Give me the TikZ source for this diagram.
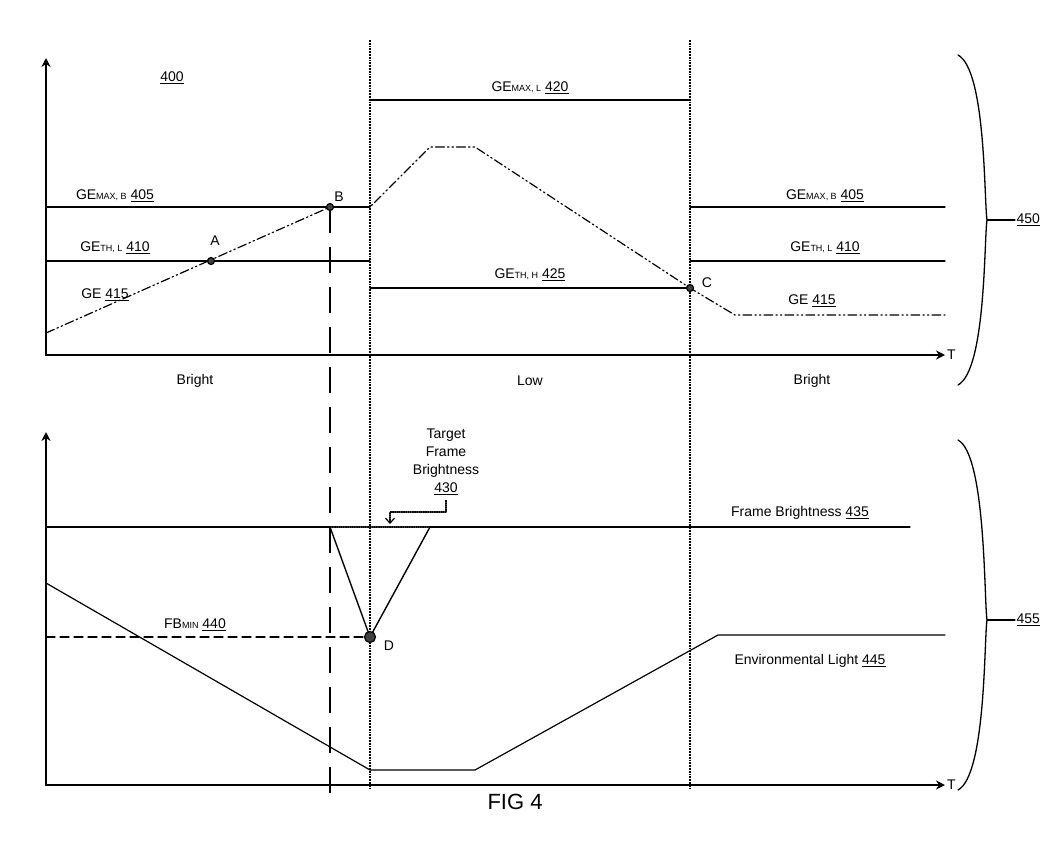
\documentclass[tikz,border=0pt]{standalone}
\usepackage{fontspec}
\setmainfont{Liberation Sans}
\usetikzlibrary{calc,arrows.meta}
\begin{document}
\begin{tikzpicture}[x=1pt, y=-1pt, line join=round, line cap=round, line width=1.2pt,
    >={Stealth[open, length=9pt, width=9pt]},
    lbl/.style={font=\fontsize{14}{16}\selectfont, inner sep=1pt},
    dot/.style={circle, fill=black!75, draw=black, inner sep=0pt, minimum size=7pt},
    dotline/.style={densely dotted, line width=1.8pt, line cap=butt},
    ge/.style={dash pattern=on 9pt off 3pt on 1.5pt off 3pt on 1.5pt off 3pt}]
	\useasboundingbox (0,0) rectangle (1059,863);

	% axes
	\coordinate (O1) at (46,355); \coordinate (O2) at (46,785);
	\draw[->, line width=2.2pt] (O1)--(46,58);
	\draw[->, line width=2.2pt] (O1)--(945,355) node[right, lbl] (T1) {T};
	\draw[->, line width=2.2pt] (O2)--(46,432);
	\draw[->, line width=2.2pt] (O2)--(945,785) node[right, lbl] (T2) {T};

	% markers in time
	\draw[dotline] (370,40)--(370,790);
	\draw[dotline] (690,40)--(690,790);
	\draw[dash pattern=on 26pt off 14pt, line width=1.6pt, line cap=butt] (330,207)--(330,800);

	% upper levels
	\draw (370,100)--(690,100);
	\draw (46,207)--(370,207) (690,207)--(945,207);
	\draw (46,261)--(370,261) (690,261)--(945,261);
	\draw (370,288)--(690,288);
	\draw[ge] (46,333)--(330,207)--(370,207)--(430,147)--(475,147)--(690,288)--(735,315)--(945,315);
	\node[dot] (A) at (211,261) {};
	\node[dot] (B) at (330,207) {};
	\node[dot] (C) at (690,288) {};
	\node[lbl] at (215,241) {A};
	\node[lbl] at (339,197) {B};
	\node[lbl] at (707,283) {C};

	\node[lbl] (gml) at (530,88) {GE{\fontsize{9}{10}\selectfont MAX, L} \underline{420}};
	\node[lbl] (gmb1) at (115,196) {GE{\fontsize{9}{10}\selectfont MAX, B} \underline{405}};
	\node[lbl] (gmb2) at (825,196) {GE{\fontsize{9}{10}\selectfont MAX, B} \underline{405}};
	\node[lbl] (gtl1) at (115,248) {GE{\fontsize{9}{10}\selectfont TH, L} \underline{410}};
	\node[lbl] (gtl2) at (825,248) {GE{\fontsize{9}{10}\selectfont TH, L} \underline{410}};
	\node[lbl] (gth) at (530,275) {GE{\fontsize{9}{10}\selectfont TH, H} \underline{425}};
	\node[lbl] (ge1) at (105,295) {GE \underline{415}};
	\node[lbl] (ge2) at (812,301) {GE \underline{415}};

	\node[lbl] at (195,381) {Bright};
	\node[lbl] at (530,381) {Low};
	\node[lbl] at (812,381) {Bright};

	% lower curves
	\draw (46,527)--(330,527) (430,527)--(910,527);
	\draw[densely dotted] (330,527)--(430,527);
	\draw[line width=1.4pt] (330,527)--(370,637)--(430,527);
	\draw[dash pattern=on 9pt off 5pt] (46,637)--(370,637);
	\draw (46,583)--(370,770)--(475,770)--(718,635)--(945,635);
	\node[dot, minimum size=11pt] (D) at (370,637) {};
	\node[lbl] at (389,646) {D};

	\node[lbl, align=center] (tfb) at (446,462) {Target\\[2pt]Frame\\[2pt]Brightness\\[2pt]\underline{430}};
	\draw[densely dotted, -{Straight Barb[length=5pt, width=9pt]}] (tfb.south) ++(0,4) |- (390,512) -- (390,524);
	\node[lbl] (fb) at (800,513) {Frame Brightness \underline{435}};
	\node[lbl] (fbm) at (195,625) {FB{\fontsize{9}{10}\selectfont MIN} \underline{440}};
	\node[lbl] (env) at (810,661) {Environmental Light \underline{445}};

	% braces
	\draw[line width=1.3pt] (958,55) .. controls (986,70) and (984,200) .. (987,220) .. controls (984,240) and (986,370) .. (958,385);
	\draw (987,220)--(1015,220);
	\node[lbl, anchor=west] at (1015,220) {\underline{450}};
	\draw[line width=1.3pt] (958,440) .. controls (986,455) and (984,600) .. (987,620) .. controls (984,640) and (986,775) .. (958,790);
	\draw (987,620)--(1015,620);
	\node[lbl, anchor=west] at (1015,620) {\underline{455}};

	\node[font=\fontsize{22}{24}\selectfont] (fig) at (515,802) {FIG 4};
	\node[lbl] (n400) at (172,78) {\underline{400}};
\end{tikzpicture}
\end{document}
